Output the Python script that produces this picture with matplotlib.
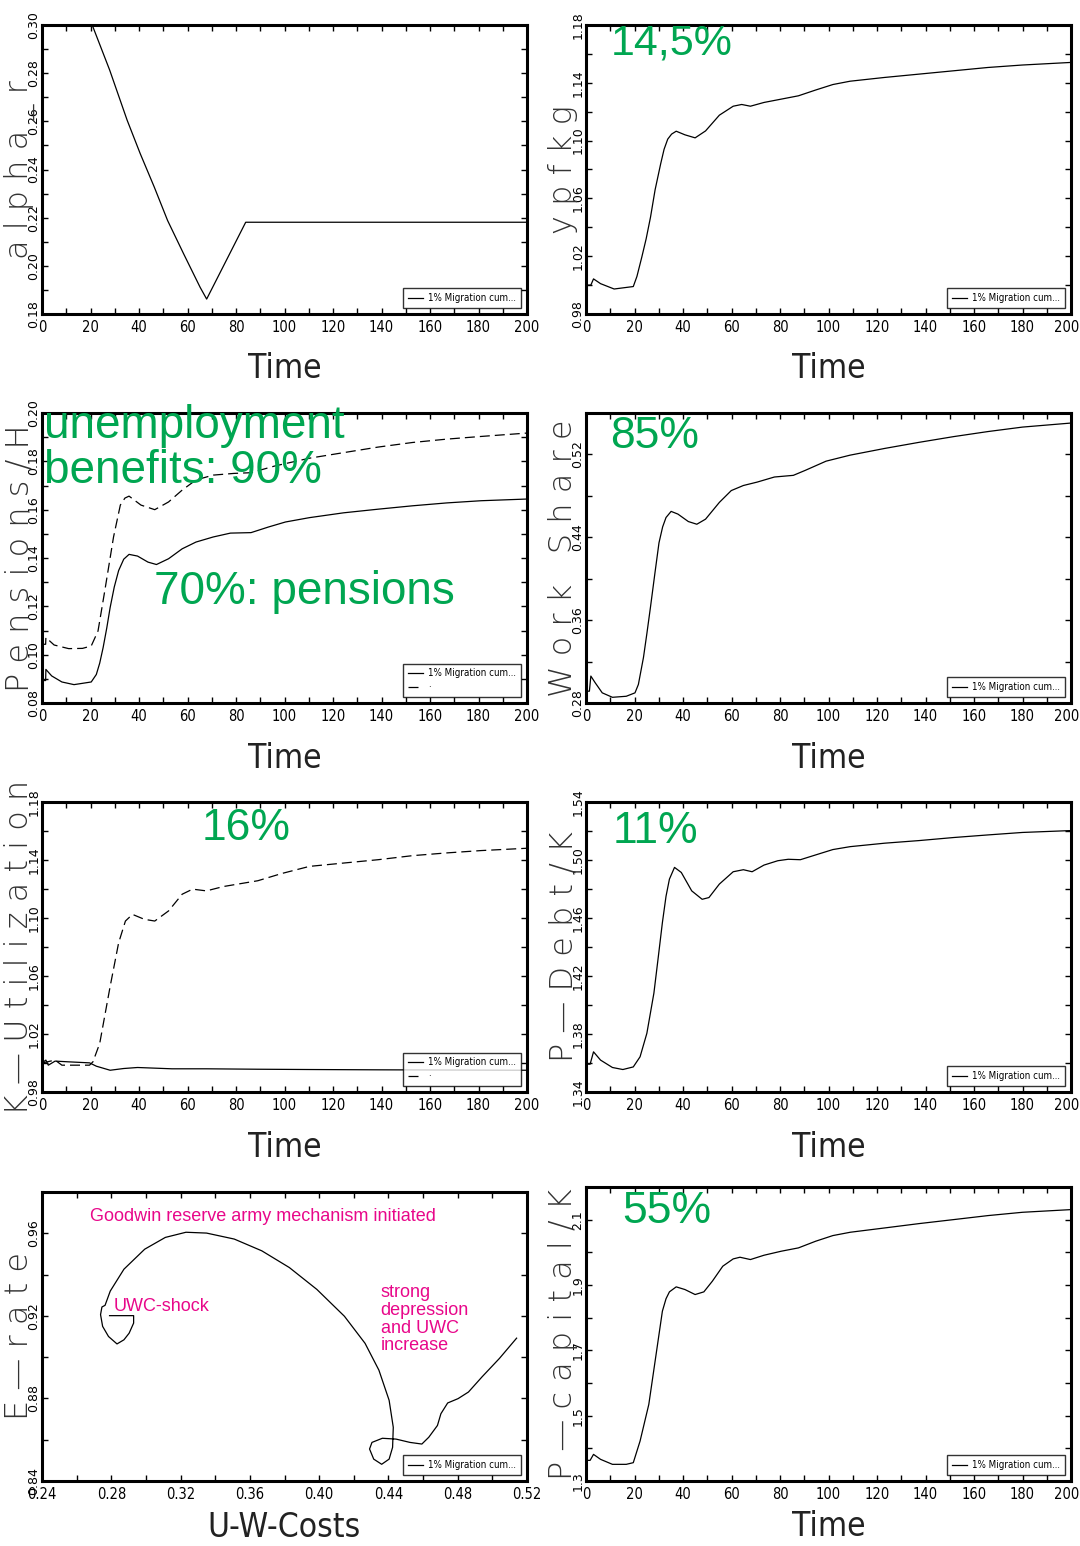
import numpy as np
import matplotlib
matplotlib.use('Agg')
import matplotlib.pyplot as plt
import matplotlib.transforms as mtrans
from matplotlib.ticker import FormatStrFormatter

GREEN = '#00a651'
PINK = '#e8078a'
ARIAL = ['Liberation Sans', 'DejaVu Sans']
W, H = 1080, 1546

# alpha_r
alpha_t = [0, 20.7, 27.9, 35.1, 40.5, 46.3, 51.8, 58.4, 65.2, 67.9, 84, 200]
alpha_r = [0.30, 0.30, 0.2813, 0.2605, 0.2466, 0.2327, 0.2188, 0.2050, 0.1911,
           0.1862, 0.2181, 0.2181]

# ypfkg
ypfkg_t = [0, 2, 3.1, 6, 11.6, 19.5, 21, 23, 24.8, 26.6, 28.5, 30.8, 32.2, 33.7,
           35.3, 37.2, 40.8, 45, 49.3, 55, 60.7, 64.2, 67.8, 73.4, 80.5, 87.6,
           94.7, 101.8, 108.9, 123.1, 137.3, 151.5, 165.7, 179.9, 200]
ypfkg = [1.000, 1.000, 1.0043, 1.001, 0.9973, 0.999, 1.006, 1.0193, 1.032, 1.047,
         1.066, 1.084, 1.094, 1.101, 1.1045, 1.1065, 1.104, 1.1019, 1.1067,
         1.1176, 1.1238, 1.125, 1.1238, 1.1264, 1.1287, 1.131, 1.135, 1.1388,
         1.1411, 1.1437, 1.146, 1.1483, 1.1506, 1.1523, 1.1541]

# Pensions/H (solid) and unemployment benefits (dashed)
pens_t = [0, 1.5, 1.6, 4, 8.2, 13.2, 20.3, 22.4, 23.8, 25.2, 26.7, 28.1, 29.8,
          31.6, 33.7, 35.9, 39.4, 43.7, 47.2, 52.2, 57.8, 63.5, 70.6, 77.7, 86.2,
          93.3, 100.4, 110.3, 124.4, 138.6, 152.8, 167, 181.1, 200]
pens = [0.0893, 0.0893, 0.0939, 0.0912, 0.0887, 0.0876, 0.0887, 0.0918, 0.0965,
        0.1029, 0.1110, 0.1195, 0.1280, 0.1348, 0.1395, 0.1415, 0.1408, 0.1383,
        0.1373, 0.1397, 0.1438, 0.1466, 0.1487, 0.1503, 0.1505, 0.1528, 0.1549,
        0.1567, 0.1587, 0.1602, 0.1616, 0.1628, 0.1637, 0.1644]
bene_t = [0, 1.5, 1.6, 5, 11, 16.7, 20.3, 23.1, 25.9, 29.5, 32.3, 34.2, 35.9, 40.8,
          46.5, 52.2, 57.8, 63.5, 70.6, 79.1, 86.2, 96.1, 110.3, 124.4, 138.6,
          152.8, 167, 181.1, 200]
bene = [0.1043, 0.1043, 0.1071, 0.1040, 0.1025, 0.1026, 0.1036, 0.1098, 0.1265,
        0.1487, 0.1619, 0.1648, 0.1656, 0.1619, 0.1600, 0.1632, 0.1681, 0.1723,
        0.1743, 0.1750, 0.1753, 0.1781, 0.1813, 0.1836, 0.1859, 0.1878, 0.1892,
        0.1903, 0.1917]

# Work Share
work_t = [0, 1.4, 2, 3.8, 6.7, 10.9, 16.6, 20.2, 21.6, 23.7, 25.1, 26.6, 28.4,
          30.1, 31.6, 33, 35.1, 37.9, 42.2, 45.7, 49.3, 55, 59.9, 64.9, 70.6,
          77.7, 85.5, 90.5, 99, 108.9, 123.2, 137.4, 151.6, 165.8, 180, 200]
work_share = [0.2914, 0.2914, 0.306, 0.2995, 0.2898, 0.2855, 0.2865, 0.2898,
              0.2979, 0.324, 0.347, 0.3728, 0.405, 0.4347, 0.450, 0.4591, 0.465,
              0.4624, 0.4552, 0.4526, 0.4575, 0.4737, 0.4851, 0.49, 0.4933,
              0.4982, 0.4998, 0.5047, 0.5135, 0.5193, 0.5258, 0.5317, 0.5372,
              0.5421, 0.5464, 0.5503]

# K-Utilization, solid and dashed runs
kutil_t = [0, 1.6, 2.6, 5.4, 11, 19.6, 22.4, 28.1, 33.7, 39.4, 53.6, 67.8, 89,
           110.3, 138.6, 200]
kutil = [1.0001, 1.002, 0.9985, 1.0013, 1.0008, 1.0001, 0.9978, 0.995, 0.9962,
         0.9969, 0.996, 0.996, 0.9957, 0.9955, 0.9953, 0.995]
kdash_t = [0, 5.4, 8.2, 19.6, 21, 23.8, 28.1, 31.6, 34.4, 37.3, 42.2, 46.5, 52.2,
           57.8, 62.1, 67.8, 74.8, 89, 98.9, 110.3, 124.4, 138.6, 152.8, 167,
           181.1, 200]
kdash = [1.0, 1.002, 0.9985, 0.9985, 1.0008, 1.0135, 1.0528, 1.0829, 1.0979,
         1.1025, 1.0991, 1.0979, 1.1049, 1.1164, 1.1199, 1.1187, 1.1217, 1.1257,
         1.1307, 1.1356, 1.1379, 1.1402, 1.143, 1.1449, 1.1465, 1.1481]

# P-Debt/K
debt_t = [0, 1.7, 3.1, 6, 10.9, 15.2, 19.5, 22.3, 25.1, 28, 29.8, 31.5, 33, 34.4,
          36.5, 39.3, 43.6, 47.9, 50.7, 55, 60.7, 64.9, 68.5, 73.4, 79.1, 83.4,
          88.4, 94.7, 101.8, 108.9, 123.2, 137.4, 151.6, 165.8, 180, 200]
debt = [1.3592, 1.3592, 1.3677, 1.362, 1.3569, 1.3555, 1.3573, 1.3643, 1.3805,
        1.4082, 1.433, 1.4568, 1.475, 1.4868, 1.4949, 1.4914, 1.4787, 1.4729,
        1.4741, 1.4834, 1.4919, 1.4933, 1.4919, 1.4965, 1.4995, 1.5005, 1.5002,
        1.5035, 1.5072, 1.5092, 1.5116, 1.5134, 1.5155, 1.5173, 1.519, 1.5203]

# E-rate against U-W-Costs
uwc = [0.2790, 0.2929, 0.2929, 0.2903, 0.2873, 0.2833, 0.2784, 0.2750, 0.2738,
       0.2746, 0.2764, 0.2794, 0.2873, 0.2993, 0.3112, 0.3231, 0.3350, 0.3510,
       0.3669, 0.3828, 0.3987, 0.4146, 0.4265, 0.4345, 0.4404, 0.4428, 0.4424,
       0.4404, 0.4361, 0.4315, 0.4291, 0.4305, 0.4365, 0.4444, 0.4524, 0.4593,
       0.4633, 0.4683, 0.4703, 0.4742, 0.4802, 0.4862, 0.4941, 0.5041, 0.5140]
erate = [0.9201, 0.9201, 0.9165, 0.9116, 0.9084, 0.9064, 0.9100, 0.9149, 0.9206,
         0.9243, 0.9251, 0.9320, 0.9426, 0.9523, 0.9580, 0.9605, 0.9601, 0.9572,
         0.9515, 0.9434, 0.9328, 0.9198, 0.9067, 0.8937, 0.8791, 0.8660, 0.8563,
         0.8506, 0.8481, 0.8506, 0.8555, 0.8587, 0.8607, 0.8603, 0.8587, 0.8579,
         0.8612, 0.8669, 0.8726, 0.8778, 0.8799, 0.8831, 0.8905, 0.8994, 0.9092]

# P-capital/K
cap_t = [0, 1.7, 3.1, 6, 10.9, 16.6, 19.5, 22.3, 25.9, 28.7, 31.5, 33, 34.4, 37.2,
         40.8, 45, 48.6, 52.1, 56.4, 60.7, 63.5, 67.8, 73.4, 80.5, 87.6, 94.7,
         101.8, 109, 123.2, 137.4, 151.6, 165.8, 180, 200]
capital = [1.3632, 1.3632, 1.3815, 1.3663, 1.351, 1.351, 1.3561, 1.4223, 1.5345,
           1.6772, 1.8199, 1.858, 1.879, 1.8943, 1.8861, 1.8708, 1.879, 1.9116,
           1.9575, 1.9799, 1.985, 1.9779, 1.9911, 2.0034, 2.0136, 2.034, 2.0513,
           2.0615, 2.0747, 2.088, 2.1002, 2.1125, 2.1226, 2.1308]

LEG_LABEL = '1% Migration cum...'


def axes_at(fig, x0, y0, x1, y1):
    return fig.add_axes([x0 / W, 1 - y1 / H, (x1 - x0) / W, (y1 - y0) / H])


def steps(lo, hi, step):
    n = int(np.floor((hi - lo) / step + 1e-6))
    return [round(lo + i * step, 6) for i in range(n + 1)]


def style_axis(ax, ylim, ymajor, yminor, yfmt, ylabel, xlim=(0, 200),
               xmajor=20, xminor=10, xfmt='%d', xlabel='Time', ytop=None,
               edge=False, xlabel_y=-0.19):
    ax.set_xticks(steps(xlim[0], xlim[1], xmajor))
    ax.set_xticks(steps(xlim[0], xlim[1], xminor), minor=True)
    ax.set_yticks(steps(ylim[0], ytop if ytop else ylim[1], ymajor))
    ax.set_yticks(steps(ylim[0], ylim[1], yminor), minor=True)
    ax.set_xlim(*xlim)
    ax.set_ylim(*ylim)
    ax.xaxis.set_major_formatter(FormatStrFormatter(xfmt))
    ax.yaxis.set_major_formatter(FormatStrFormatter(yfmt))
    ax.tick_params(which='both', direction='in', top=True, right=True,
                   length=4, width=1)
    ax.tick_params(axis='x', pad=4)
    ax.tick_params(axis='y', pad=1)
    xlabs = ax.get_xticklabels()
    for lab in xlabs:
        lab.set_family('DejaVu Sans')
        lab.set_stretch('condensed')
        lab.set_fontsize(10.5)
    if edge:
        # keep the last time label inside the figure edge
        last = xlabs[-1]
        last.set_ha('right')
        last.set_transform(last.get_transform() + mtrans.ScaledTranslation(
            0.08, 0, ax.figure.dpi_scale_trans))
    for lab in ax.get_yticklabels():
        lab.set_family('DejaVu Sans')
        lab.set_fontsize(9)
        lab.set_rotation(90)
        lab.set_va('center')
    for sp in ax.spines.values():
        sp.set_linewidth(2.2)
    ax.text(-0.047, 0.5, ylabel, transform=ax.transAxes, rotation=90,
            ha='center', va='center', fontsize=23, family='DejaVu Sans',
            fontweight='light', color='#333333')
    ax.text(0.5, xlabel_y, xlabel, transform=ax.transAxes, ha='center',
            va='center', fontsize=24, family='DejaVu Sans',
            fontstretch='condensed', fontweight='light', color='#222222')


def add_legend(ax, two=False):
    handles = ax.get_lines()[:2 if two else 1]
    labels = [LEG_LABEL, '\u00b7'][:len(handles)]
    leg = ax.legend(handles, labels, loc='lower right',
                    prop={'family': 'DejaVu Sans', 'stretch': 'condensed',
                          'size': 7},
                    frameon=True, fancybox=False, handlelength=1.6,
                    handletextpad=0.5, borderaxespad=0.6, borderpad=0.5,
                    labelspacing=0.4)
    leg.get_frame().set_edgecolor('black')
    leg.get_frame().set_linewidth(1.0)


def green(ax, x, y, s, size=31):
    ax.text(x, y, s, transform=ax.transAxes, color=GREEN, fontsize=size,
            family=ARIAL, ha='left', va='top')


fig = plt.figure(figsize=(W / 100, H / 100), dpi=100)
LW = 0.9
DASH = (8, 4)

# row 1
ax = axes_at(fig, 42, 25, 527, 314)
ax.plot(alpha_t, alpha_r, color='black', lw=LW)
style_axis(ax, (0.18, 0.30), 0.02, 0.01, '%.2f', 'a l p h a _ r')
add_legend(ax)

ax = axes_at(fig, 586, 25, 1071, 314)
ax.plot(ypfkg_t, ypfkg, color='black', lw=LW)
style_axis(ax, (0.98, 1.18), 0.04, 0.02, '%.2f', 'y p f k g', edge=True)
add_legend(ax)
green(ax, 0.05, 1.005, '14,5%')

# row 2
ax = axes_at(fig, 42, 413, 527, 703)
ax.plot(pens_t, pens, color='black', lw=LW)
ax.plot(bene_t, bene, color='black', lw=LW, dashes=DASH)
style_axis(ax, (0.08, 0.20), 0.02, 0.01, '%.2f', 'P e n s i o n s / H')
add_legend(ax, two=True)
ax.text(0.005, 1.03, 'unemployment\nbenefits: 90%', transform=ax.transAxes,
        color=GREEN, fontsize=33, family=ARIAL, ha='left', va='top',
        linespacing=1.02)
green(ax, 0.23, 0.46, '70%: pensions', size=33)

ax = axes_at(fig, 586, 413, 1071, 703)
ax.plot(work_t, work_share, color='black', lw=LW)
style_axis(ax, (0.28, 0.56), 0.08, 0.04, '%.2f', 'W o r k   S h a r e',
           edge=True)
add_legend(ax)
green(ax, 0.05, 0.99, '85%', size=32)

# row 3
ax = axes_at(fig, 42, 802, 527, 1092)
ax.plot(kutil_t, kutil, color='black', lw=LW)
ax.plot(kdash_t, kdash, color='black', lw=LW, dashes=DASH)
style_axis(ax, (0.98, 1.18), 0.04, 0.02, '%.2f', 'K \u2014 U t i l i z a t i o n')
add_legend(ax, two=True)
green(ax, 0.33, 0.98, '16%', size=32)

ax = axes_at(fig, 586, 802, 1071, 1092)
ax.plot(debt_t, debt, color='black', lw=LW)
style_axis(ax, (1.34, 1.54), 0.04, 0.02, '%.2f', 'P \u2014 D e b t / K',
           edge=True)
add_legend(ax)
green(ax, 0.055, 0.97, '11%', size=32)

# row 4
ax = axes_at(fig, 42, 1192, 527, 1481)
ax.plot(uwc, erate, color='black', lw=LW)
style_axis(ax, (0.84, 0.98), 0.04, 0.02, '%.2f', 'E \u2014 r a t e',
           xlim=(0.24, 0.52), xmajor=0.04, xminor=0.02, xfmt='%.2f',
           xlabel='U-W-Costs', xlabel_y=-0.16)
add_legend(ax)
ax.text(0.1, 0.915, 'Goodwin reserve army mechanism initiated',
        transform=ax.transAxes, color=PINK, fontsize=13, family=ARIAL,
        ha='left', va='center')
ax.text(0.147, 0.605, 'UWC-shock', transform=ax.transAxes, color=PINK,
        fontsize=13, family=ARIAL, ha='left', va='center')
ax.text(0.698, 0.68, 'strong\ndepression\nand UWC\nincrease',
        transform=ax.transAxes, color=PINK, fontsize=13, family=ARIAL,
        ha='left', va='top', linespacing=1.05)

ax = axes_at(fig, 586, 1187, 1071, 1481)
ax.plot(cap_t, capital, color='black', lw=LW)
style_axis(ax, (1.3, 2.2), 0.2, 0.1, '%.1f', 'P \u2014 c a p i t a l / K',
           ytop=2.1, edge=True, xlabel_y=-0.155)
add_legend(ax)
green(ax, 0.075, 0.985, '55%', size=32)

fig.savefig('out.png', dpi=100)
